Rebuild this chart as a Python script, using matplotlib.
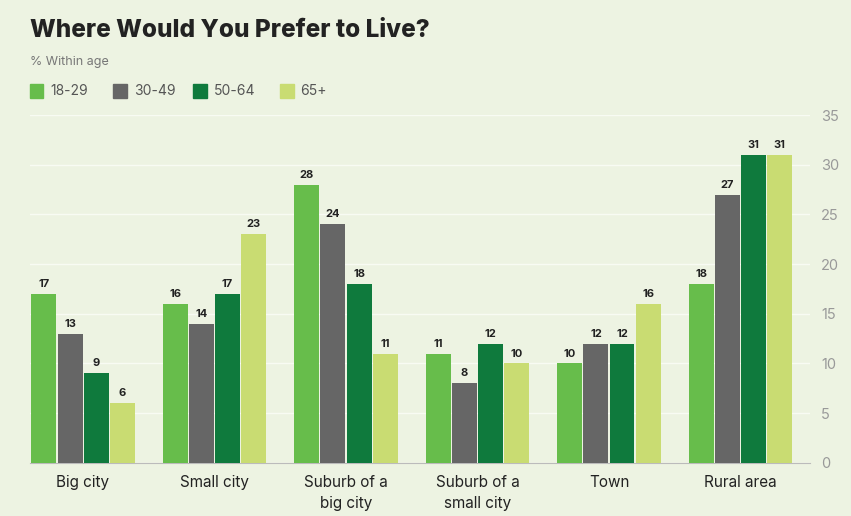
import matplotlib.pyplot as plt
import numpy as np

categories = ["Big city", "Small city", "Suburb of a\nbig city", "Suburb of a\nsmall city", "Town", "Rural area"]
ages = ["18-29", "30-49", "50-64", "65+"]
v18 = [17, 16, 28, 11, 10, 18]
v30 = [13, 14, 24, 8, 12, 27]
v50 = [9, 17, 18, 12, 12, 31]
v65 = [6, 23, 11, 10, 16, 31]
yticks = [0, 5, 10, 15, 20, 25, 30, 35]

plt.rcParams["font.family"] = ["Inter", "DejaVu Sans"]

colors = ["#67bd4b", "#666666", "#0f7a3d", "#c9dc72"]
bg = "#edf3e2"

fig = plt.figure(figsize=(8.51, 5.16), dpi=100, facecolor=bg)
ax = fig.add_axes([0.035, 0.103, 0.917, 0.674], facecolor=bg)

x = np.arange(len(categories))
w = 0.19
step = 0.198
series = [v18, v30, v50, v65]
for i, vals in enumerate(series):
    pos = x + (i - 1.5) * step
    ax.bar(pos, vals, w, color=colors[i], zorder=3)
    for p, v in zip(pos, vals):
        ax.text(p, v + 0.5, str(v), ha="center", va="bottom", fontsize=8,
                fontweight="bold", color="#222222", zorder=4)

ax.set_xlim(-0.405, 5.53)
ax.set_ylim(0, 35)
ax.yaxis.tick_right()
ax.set_yticks(yticks)
ax.set_yticklabels([str(t) for t in yticks], color="#999999", fontsize=10.5)
ax.tick_params(axis="y", length=0, pad=8)
ax.grid(axis="y", color="#f8fbf3", linewidth=1, zorder=0)
ax.set_xticks(x)
ax.set_xticklabels(categories, fontsize=11, color="#222222", va="top", linespacing=1.45)
ax.tick_params(axis="x", length=0, pad=9)
for s in ["top", "left", "right"]:
    ax.spines[s].set_visible(False)
ax.spines["bottom"].set_color("#bbbbbb")

fig.text(0.035, 0.94, "Where Would You Prefer to Live?", fontsize=17.5, fontweight="heavy",
         color="#222222", va="center")
fig.text(0.035, 0.88, "% Within age", fontsize=9, color="#777777", va="center")

lx = [0.035, 0.133, 0.227, 0.329]
for i, a in enumerate(ages):
    fig.patches.append(plt.Rectangle((lx[i], 0.81), 0.016, 0.027, color=colors[i],
                                     transform=fig.transFigure, figure=fig))
    fig.text(lx[i] + 0.024, 0.8235, a, fontsize=10, color="#555555", va="center")

fig.savefig("out.png", dpi=100, facecolor=bg)
